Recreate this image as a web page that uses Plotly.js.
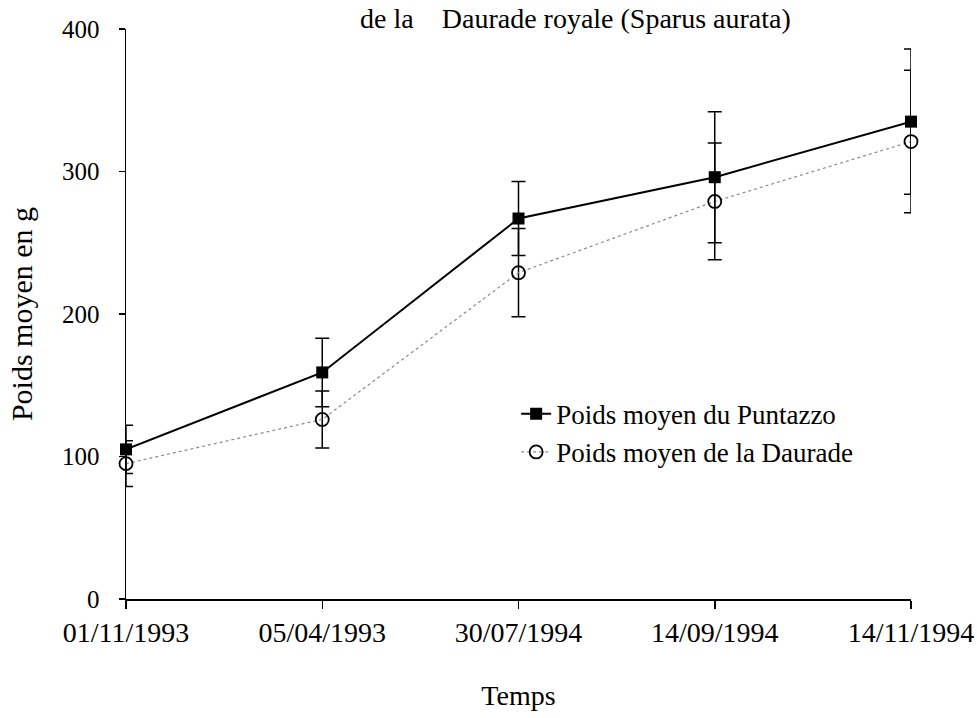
<!DOCTYPE html>
<html>
<head>
<meta charset="utf-8">
<script src="https://cdn.plot.ly/plotly-3.0.1.min.js"></script>
<style>html,body{margin:0;padding:0;background:#fff;}#chart{width:977px;height:718px;}</style>
</head>
<body>
<div id="chart"></div>
<script>
const dates = ["01/11/1993", "05/04/1993", "30/07/1994", "14/09/1994", "14/11/1994"];
const puntazzo = [105, 159, 267, 296, 335];
const puntazzoErr = [17, 24, 26, 46, 51];
const daurade = [95, 126, 229, 279, 321];
const daurateErr = [16, 20, 31, 41, 50];
const yTicks = [0, 100, 200, 300, 400];

const serif = "Liberation Serif, Times New Roman, serif";

const traces = [
  {
    x: dates, y: daurade, name: "Poids moyen de la Daurade",
    type: "scatter", mode: "lines+markers", cliponaxis: false,
    line: {color: "#8a8a8a", width: 1.2, dash: "dot"},
    marker: {symbol: "circle-open", size: 13, color: "#000", line: {width: 1.8, color: "#000"}},
    error_y: {type: "data", array: daurateErr, visible: true, color: "#000", thickness: 1.5, width: 7}
  },
  {
    x: dates, y: puntazzo, name: "Poids moyen du Puntazzo",
    type: "scatter", mode: "lines+markers", cliponaxis: false,
    line: {color: "#000", width: 2},
    marker: {symbol: "square", size: 12, color: "#000"},
    error_y: {type: "data", array: puntazzoErr, visible: true, color: "#000", thickness: 1.5, width: 7}
  }
];

const layout = {
  width: 977, height: 718,
  margin: {l: 126, r: 66, t: 29, b: 119},
  paper_bgcolor: "#fff", plot_bgcolor: "#fff",
  font: {family: serif, size: 26, color: "#000"},
  title: {
    text: "de la\u00a0\u00a0\u00a0\u00a0Daurade royale (Sparus aurata)",
    font: {family: serif, size: 28, color: "#000"},
    x: 0.589, xanchor: "center", y: 0.975, yanchor: "middle", yref: "container"
  },
  showlegend: true,
  legend: {
    x: 0.497, xanchor: "left", y: 0.367, yanchor: "top",
    traceorder: "reversed",
    font: {family: serif, size: 27, color: "#000"},
    bgcolor: "rgba(0,0,0,0)", itemwidth: 30
  },
  xaxis: {
    type: "category", range: [0, 4],
    showgrid: false, zeroline: false,
    showline: true, linecolor: "#000", linewidth: 1.5,
    ticks: "outside", ticklen: 8, tickcolor: "#000", tickwidth: 1.5,
    tickfont: {family: serif, size: 28, color: "#000"},
    title: {text: "Temps", font: {family: serif, size: 28, color: "#000"}, standoff: 38}
  },
  yaxis: {
    range: [0, 400], tickvals: yTicks, ticktext: yTicks.map(String),
    showgrid: false, zeroline: false,
    showline: true, linecolor: "#000", linewidth: 1.5,
    ticks: "outside", ticklen: 6, tickcolor: "#000", tickwidth: 1.5,
    ticklabelstandoff: 14,
    tickfont: {family: serif, size: 25, color: "#000"},
    title: {text: "Poids moyen en g", font: {family: serif, size: 30, color: "#000"}, standoff: 20}
  }
};

Plotly.newPlot("chart", traces, layout, {displayModeBar: false, staticPlot: true});
</script>
</body>
</html>
